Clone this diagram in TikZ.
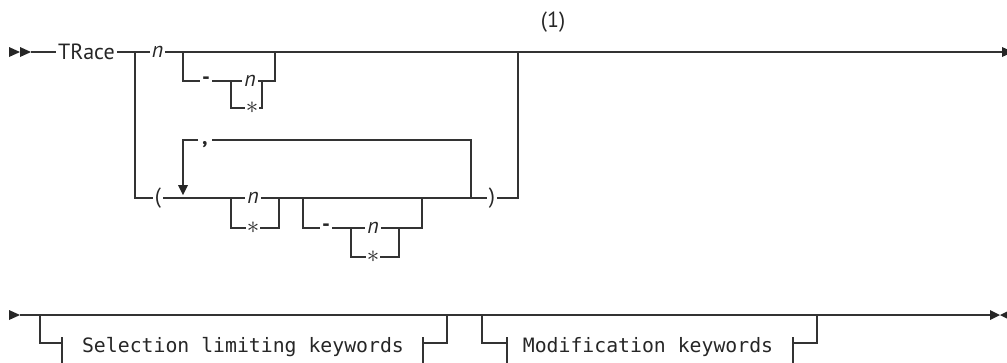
\documentclass[tikz,border=0pt]{standalone}
\usepackage{fontspec}
\setmainfont{PT Sans}
\setmonofont{DejaVu Sans Mono}
\begin{document}
\begin{tikzpicture}[x=1pt,y=-1pt,
  rail/.style={line width=1.3pt, draw=black!80},
  kw/.style={font=\fontsize{22}{26}\selectfont, inner xsep=2pt, inner ysep=0pt, text=black!85},
  var/.style={font=\fontsize{22}{26}\selectfont\itshape, inner xsep=2pt, inner ysep=0pt, text=black!85},
  star/.style={font=\fontsize{27}{30}\selectfont, inner xsep=1pt, inner ysep=0pt, text=black!85},
  dashsym/.style={font=\fontsize{22}{26}\selectfont\bfseries, inner xsep=2pt, inner ysep=0pt, text=black!85},
  mono/.style={font=\fontsize{19.8}{24}\selectfont\ttfamily, inner sep=0pt, anchor=base, text=black!85},
  tri/.style={fill=black!85}]
\useasboundingbox (0,0) rectangle (1007,362);

% ---------- row 1 ----------
\fill[tri] (9,47) -- (20,52) -- (9,57) -- cycle;
\fill[tri] (20,47) -- (31,52) -- (20,57) -- cycle;
\coordinate (s1) at (31,52);
\node[kw] (trace) at (86.5,52) {TRace};
\coordinate (j1) at (135,52);
\node[var] (n1) at (157.5,52) {n};
\coordinate (j2) at (183,52);
\coordinate (j3) at (275,52);
\coordinate (j4) at (518,52);
\coordinate (e1) at (1002,52);
\node[kw] (note) at (553,22) {(1)};
\draw[rail] (s1) -- (trace.west);
\draw[rail] (trace.east) -- (j1) -- (n1.west);
\draw[rail] (n1.east) -- (j2) -- (j3) -- (j4) -- (e1);
\fill[tri] (1002,47) -- (1013,52) -- (1002,57) -- cycle;

% optional - n/*
\coordinate (b1) at (183,81);
\node[dashsym] (dash1) at (206,81) {-};
\coordinate (j5) at (231,81);
\node[var] (n2) at (250,81) {n};
\coordinate (r2) at (262,81);
\coordinate (r1) at (275,81);
\draw[rail] (j2) -- (b1) -- (dash1.west);
\draw[rail] (dash1.east) -- (j5) -- (n2.west);
\draw[rail] (n2.east) -- (r2) -- (r1) -- (j3);
\coordinate (b2) at (231,108);
\node[star] (st1) at (252,108) {$\ast$};
\coordinate (r3) at (262,108);
\draw[rail] (j5) -- (b2) -- (st1.west);
\draw[rail] (st1.east) -- (r3) -- (r2);

% lower path ( ... )
\coordinate (l1) at (135,198);
\node[kw] (lp) at (158,198) {(};
\coordinate (j6) at (183,198);
\coordinate (j7) at (231,198);
\node[var] (n3) at (253,198) {n};
\coordinate (j8) at (279,198);
\coordinate (j9) at (303,198);
\coordinate (j10) at (422,198);
\coordinate (j11) at (471,198);
\node[kw] (rp) at (492,198) {)};
\coordinate (l2) at (518,198);
\draw[rail] (j1) -- (l1) -- (lp.west);
\draw[rail] (lp.east) -- (j6) -- (j7) -- (n3.west);
\draw[rail] (n3.east) -- (j8) -- (j9) -- (j10) -- (j11) -- (rp.west);
\draw[rail] (rp.east) -- (l2) -- (j4);

% repeat separator
\coordinate (rt1) at (471,140);
\coordinate (rt2) at (183,140);
\node[kw, font=\fontsize{22}{26}\selectfont\bfseries, anchor=north, inner xsep=4pt] (comma) at (205,141) {,};
\coordinate (rarr) at (183,186);
\draw[rail] (j11) -- (rt1) -- (comma.east |- rt1);
\draw[rail] (comma.west |- rt1) -- (rt2) -- (rarr);
\fill[tri] (178,185) -- (188,185) -- (183,195) -- cycle;

% n / *
\coordinate (b3) at (231,228);
\node[star] (st2) at (253,228) {$\ast$};
\coordinate (b4) at (279,228);
\draw[rail] (j7) -- (b3) -- (st2.west);
\draw[rail] (st2.east) -- (b4) -- (j8);

% optional - n/*
\coordinate (b5) at (303,228);
\node[dashsym] (dash2) at (326,228) {-};
\coordinate (j12) at (351,228);
\node[var] (n4) at (373,228) {n};
\coordinate (b6) at (399,228);
\coordinate (b7) at (422,228);
\draw[rail] (j9) -- (b5) -- (dash2.west);
\draw[rail] (dash2.east) -- (j12) -- (n4.west);
\draw[rail] (n4.east) -- (b6) -- (b7) -- (j10);
\coordinate (b8) at (351,257);
\node[star] (st3) at (373,257) {$\ast$};
\coordinate (b9) at (399,257);
\draw[rail] (j12) -- (b8) -- (st3.west);
\draw[rail] (st3.east) -- (b9) -- (b6);

% ---------- row 2 ----------
\fill[tri] (9,310) -- (20,315) -- (9,320) -- cycle;
\coordinate (s2) at (20,315);
\coordinate (k1) at (40,315);
\coordinate (k2) at (447,315);
\coordinate (k3) at (482,315);
\coordinate (k4) at (817,315);
\coordinate (e2) at (990,315);
\draw[rail] (s2) -- (k1) -- (k2) -- (k3) -- (k4) -- (e2);
\fill[tri] (990,310) -- (1000,315) -- (990,320) -- cycle;
\fill[tri] (1010,310) -- (1000,315) -- (1010,320) -- cycle;

% fragment: Selection limiting keywords
\coordinate (f1a) at (40,343);
\coordinate (f1b) at (62,343);
\coordinate (f1c) at (423,343);
\coordinate (f1d) at (447,343);
\node[mono] (sel) at (243,352) {Selection limiting keywords};
\draw[rail] (k1) -- (f1a) -- (f1b);
\draw[rail] (62,337) -- (62,364);
\draw[rail] (423,337) -- (423,364);
\draw[rail] (f1c) -- (f1d) -- (k2);

% fragment: Modification keywords
\coordinate (f2a) at (482,343);
\coordinate (f2b) at (507,343);
\coordinate (f2c) at (793,343);
\coordinate (f2d) at (817,343);
\node[mono] (mod) at (648,352) {Modification keywords};
\draw[rail] (k3) -- (f2a) -- (f2b);
\draw[rail] (507,337) -- (507,364);
\draw[rail] (793,337) -- (793,364);
\draw[rail] (f2c) -- (f2d) -- (k4);
\end{tikzpicture}
\end{document}
